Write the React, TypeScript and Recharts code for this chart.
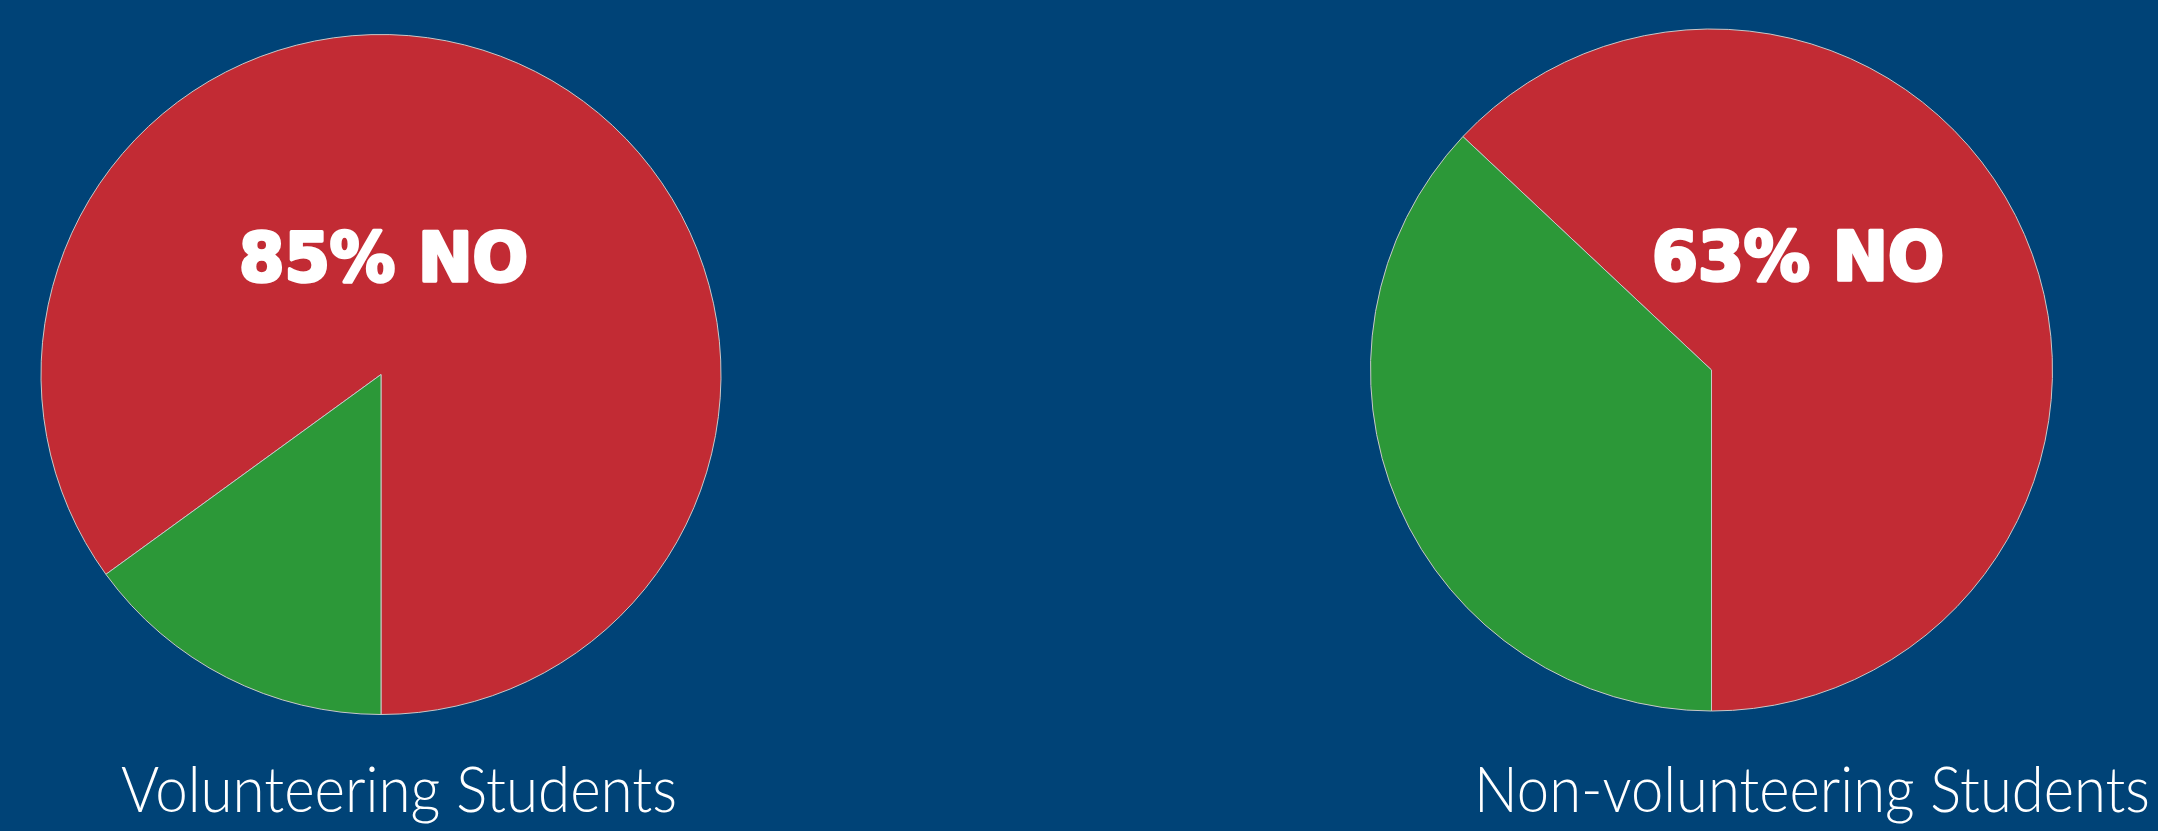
import React from "react";
import { PieChart, Pie, Cell } from "recharts";

const answers = ["NO", "YES"];
const volunteeringValues = [85, 15];
const nonVolunteeringValues = [63, 37];
const groupTitles = ["Volunteering Students", "Non-volunteering Students"];
const noLabels = ["85% NO", "63% NO"];
const sliceColors = ["#C22B34", "#2C9838"];

const volunteeringData = answers.map((name, i) => ({ name, value: volunteeringValues[i] }));
const nonVolunteeringData = answers.map((name, i) => ({ name, value: nonVolunteeringValues[i] }));

const W = 2158;
const H = 831;
const BG = "#004377";

const labelStyle = {
  fill: "#FFFFFF",
  stroke: "#FFFFFF",
  strokeWidth: 3.5,
  strokeLinejoin: "round" as const,
  paintOrder: "stroke" as const,
};

export default function App() {
  return (
    <div style={{ position: "absolute", left: 0, top: 0, width: W, height: H, background: BG, overflow: "hidden" }}>
      <PieChart width={W} height={H} margin={{ top: 0, right: 0, bottom: 0, left: 0 }}>
        <Pie
          data={volunteeringData}
          dataKey="value"
          nameKey="name"
          cx={381}
          cy={374.5}
          outerRadius={340}
          startAngle={-90}
          endAngle={270}
          stroke="#C8C8C8"
          strokeWidth={1}
          isAnimationActive={false}
        >
          {volunteeringData.map((d, i) => (
            <Cell key={d.name} fill={sliceColors[i]} />
          ))}
        </Pie>
        <Pie
          data={nonVolunteeringData}
          dataKey="value"
          nameKey="name"
          cx={1711.5}
          cy={370}
          outerRadius={341}
          startAngle={-90}
          endAngle={270}
          stroke="#C8C8C8"
          strokeWidth={1}
          isAnimationActive={false}
        >
          {nonVolunteeringData.map((d, i) => (
            <Cell key={d.name} fill={sliceColors[i]} />
          ))}
        </Pie>
      </PieChart>
      <svg
        width={W}
        height={H}
        style={{ position: "absolute", left: 0, top: 0, pointerEvents: "none" }}
      >
        <text
          x={239}
          y={281}
          style={labelStyle}
          fontFamily="'DejaVu Sans', sans-serif"
          fontWeight={900}
          fontSize={68}
          textLength={289}
          lengthAdjust="spacingAndGlyphs"
        >
          {noLabels[0]}
        </text>
        <text
          x={1652}
          y={280}
          style={labelStyle}
          fontFamily="'DejaVu Sans', sans-serif"
          fontWeight={900}
          fontSize={68}
          textLength={292}
          lengthAdjust="spacingAndGlyphs"
        >
          {noLabels[1]}
        </text>
        <text
          x={121}
          y={812}
          fill="#FFFFFF"
          fontFamily="Lato, Roboto, sans-serif"
          fontWeight={300}
          fontSize={63}
          textLength={556}
          lengthAdjust="spacingAndGlyphs"
        >
          {groupTitles[0]}
        </text>
        <text
          x={1474}
          y={812}
          fill="#FFFFFF"
          fontFamily="Lato, Roboto, sans-serif"
          fontWeight={300}
          fontSize={63}
          textLength={676}
          lengthAdjust="spacingAndGlyphs"
        >
          {groupTitles[1]}
        </text>
      </svg>
    </div>
  );
}
